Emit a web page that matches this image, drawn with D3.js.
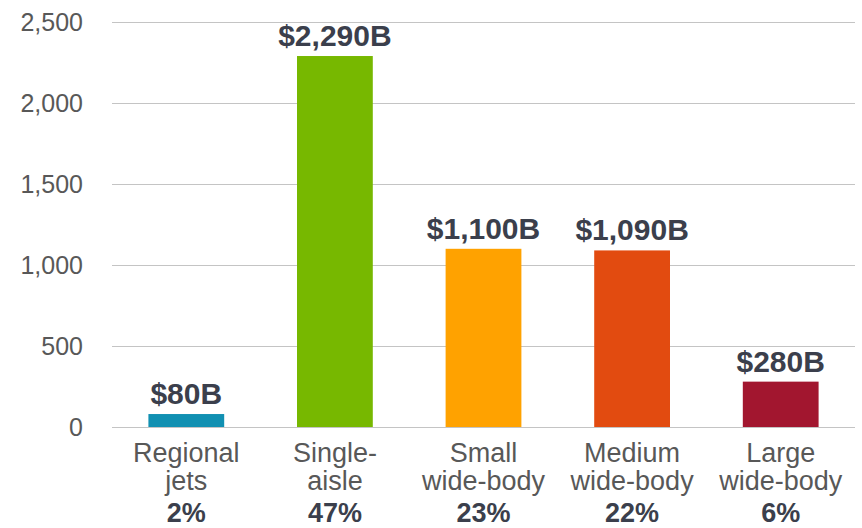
<!DOCTYPE html>
<html>
<head>
<meta charset="utf-8">
<script src="https://cdn.jsdelivr.net/npm/d3@7"></script>
<style>
  body { margin: 0; background: #fff; }
  svg { display: block; font-family: "Liberation Sans", Arial, sans-serif; }
</style>
</head>
<body>
<script>
'use strict';
var categories = [["Regional", "jets"], ["Single-", "aisle"], ["Small", "wide-body"], ["Medium", "wide-body"], ["Large", "wide-body"]];
var values = [80, 2290, 1100, 1090, 280];
var valueLabels = ["$80B", "$2,290B", "$1,100B", "$1,090B", "$280B"];
var shares = ["2%", "47%", "23%", "22%", "6%"];
var colors = ["#1190b2", "#77b800", "#ffa200", "#e24b10", "#a2162f"];
var yTicks = [0, 500, 1000, 1500, 2000, 2500];

var width = 862, height = 528;
var svg = d3.select("body").append("svg")
    .attr("width", width)
    .attr("height", height);

var x = d3.scaleBand()
    .domain(d3.range(values.length))
    .range([112, 855])
    .paddingInner(0.49)
    .paddingOuter(0.245);

var y = d3.scaleLinear()
    .domain([0, 2500])
    .range([427, 22]);

// gridlines
svg.append("g").selectAll("line")
    .data(yTicks)
    .enter().append("line")
        .attr("x1", 112)
        .attr("x2", 855)
        .attr("y1", d => y(d) + 0.5)
        .attr("y2", d => y(d) + 0.5)
        .attr("stroke", "#c4c4c4")
        .attr("stroke-width", 1);

// y tick labels
svg.append("g").selectAll("text")
    .data(yTicks)
    .enter().append("text")
        .attr("x", 83)
        .attr("y", d => y(d))
        .attr("dy", "0.36em")
        .attr("text-anchor", "end")
        .attr("fill", "#585858")
        .style("font-size", "25px")
        .text(d => d3.format(",")(d));

// bars
svg.append("g").selectAll("rect")
    .data(values)
    .enter().append("rect")
        .attr("x", (d, i) => x(i))
        .attr("width", x.bandwidth())
        .attr("y", d => y(d))
        .attr("height", d => y(0) - y(d))
        .attr("fill", (d, i) => colors[i]);

// value labels
svg.append("g").selectAll("text")
    .data(values)
    .enter().append("text")
        .attr("x", (d, i) => x(i) + x.bandwidth() / 2)
        .attr("y", d => y(d) - 10)
        .attr("text-anchor", "middle")
        .attr("fill", "#3b3f4c")
        .style("font-size", "30px")
        .style("font-weight", "bold")
        .text((d, i) => valueLabels[i]);

// category labels
var cat = svg.append("g").selectAll("g")
    .data(categories)
    .enter().append("g")
        .attr("transform", (d, i) => "translate(" + (x(i) + x.bandwidth() / 2) + "," + y(0) + ")");

cat.each(function(d, i) {
    var g = d3.select(this);
    g.append("text")
        .attr("y", 35)
        .attr("text-anchor", "middle")
        .attr("fill", "#585858")
        .style("font-size", "27px")
        .text(d[0]);
    g.append("text")
        .attr("y", 63)
        .attr("text-anchor", "middle")
        .attr("fill", "#585858")
        .style("font-size", "27px")
        .text(d[1]);
    g.append("text")
        .attr("y", 95)
        .attr("text-anchor", "middle")
        .attr("fill", "#3b3f4c")
        .style("font-size", "27px")
        .style("font-weight", "bold")
        .text(shares[i]);
});
</script>
</body>
</html>
